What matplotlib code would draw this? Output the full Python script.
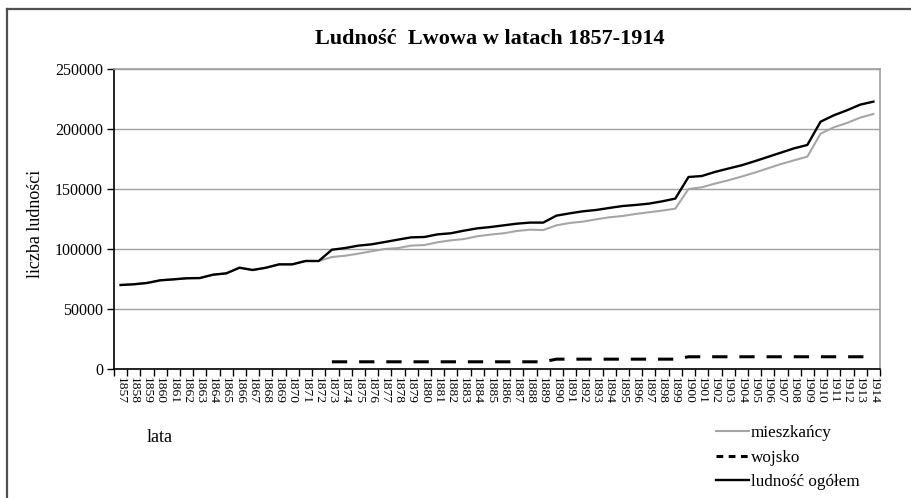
import matplotlib
matplotlib.use("Agg")
import matplotlib.pyplot as plt
from matplotlib.lines import Line2D
import numpy as np

plt.rcParams['font.family'] = ['Liberation Serif', 'DejaVu Serif']

years = list(range(1857, 1915))

ogolem = [70000, 70600, 71700, 73900, 74700, 75600, 75800, 78600, 79700, 84400,
          82500, 84400, 87200, 87200, 90000, 90000, 99400, 100800, 102800, 103900,
          105800, 107800, 109700, 110000, 112200, 113100, 115300, 117200, 118300, 119700,
          121100, 122000, 122000, 127800, 129700, 131400, 132500, 134200, 135800, 136700,
          137800, 139700, 142000, 160000, 160800, 164200, 167000, 169700, 173100, 176700,
          180300, 183900, 186700, 206100, 211400, 215600, 220300, 222800]

mieszkancy = [70000, 70600, 71700, 73900, 74700, 75600, 75800, 78600, 79700, 84400,
              82500, 84400, 87200, 87200, 90000, 90000, 93300, 94400, 96100, 98100,
              100000, 100800, 102800, 103300, 105600, 107200, 108300, 110600, 112000, 113100,
              115000, 116100, 115800, 119700, 121700, 122800, 124700, 126400, 127500, 129200,
              130600, 132000, 133600, 150000, 151400, 154500, 157200, 160300, 163600, 167200,
              170800, 173900, 177000, 196100, 201400, 205000, 209500, 212500]

wojsko = [np.nan] * 16 + [6000] * 17 + [8200] * 10 + [10200] * 15

yticks = [0, 50000, 100000, 150000, 200000, 250000]

W, H = 912, 498
fig = plt.figure(figsize=(W / 100, H / 100), dpi=100)
ax = fig.add_axes([114 / W, 1 - 369 / H, (880 - 114) / W, (369 - 69) / H])

x = np.arange(len(years))
ax.plot(x, mieszkancy, color='#a6a6a6', lw=1.5, zorder=3)
ax.plot(x, wojsko, color='black', lw=2.2, dashes=(5, 3.9), zorder=3)
ax.plot(x, ogolem, color='black', lw=1.7, zorder=4)

ax.set_xlim(-0.5, len(years) - 0.5)
ax.set_ylim(0, 250000)
ax.set_yticks(yticks)
ax.set_yticklabels([str(v) for v in yticks], fontsize=11.5)
ax.yaxis.grid(True, color='#a0a0a0', lw=1)
ax.set_axisbelow(True)

ax.set_xticks(x)
ax.set_xticklabels([str(y) for y in years], rotation=270, fontsize=9.7)
ax.tick_params(axis='x', which='major', length=0, pad=6)
ax.set_xticks(np.arange(-0.5, len(years), 1), minor=True)
ax.tick_params(axis='x', which='minor', length=5, width=1, direction='out', color='black')
ax.tick_params(axis='y', length=5, width=1, direction='out', pad=3)

for s in ['top', 'right']:
    ax.spines[s].set_color('#a0a0a0')
    ax.spines[s].set_linewidth(1.2)
for s in ['left', 'bottom']:
    ax.spines[s].set_color('black')
    ax.spines[s].set_linewidth(1.2)

fig.text(490 / W, 1 - 39 / H, 'Ludność  Lwowa w latach 1857-1914', ha='center', va='center',
         fontsize=16, fontweight='bold')
fig.text(35 / W, 1 - 224 / H, 'liczba ludności', rotation=90, ha='center', va='center', fontsize=13)
fig.text(160 / W, 1 - 438 / H, 'lata', ha='center', va='center', fontsize=13)

handles = [Line2D([], [], color='#a6a6a6', lw=1.5),
           Line2D([], [], color='black', lw=2.2, dashes=(2.2, 1.8)),
           Line2D([], [], color='black', lw=1.7)]
labels = ['mieszkańcy', 'wojsko', 'ludność ogółem']
fig.legend(handles, labels, loc='upper left', bbox_to_anchor=(716 / W, 1 - 425 / H),
           frameon=False, fontsize=12.3, handlelength=1.95, handletextpad=0.1,
           labelspacing=0.5, borderpad=0, borderaxespad=0)

# outer frame
fig.add_artist(Line2D([7 / W, 1], [1 - 9 / H, 1 - 9 / H], color='#505050', lw=1.6,
                      transform=fig.transFigure))
fig.add_artist(Line2D([7 / W, 7 / W], [0, 1 - 9 / H], color='#505050', lw=1.6,
                      transform=fig.transFigure))

fig.savefig('out.png', dpi=100)
